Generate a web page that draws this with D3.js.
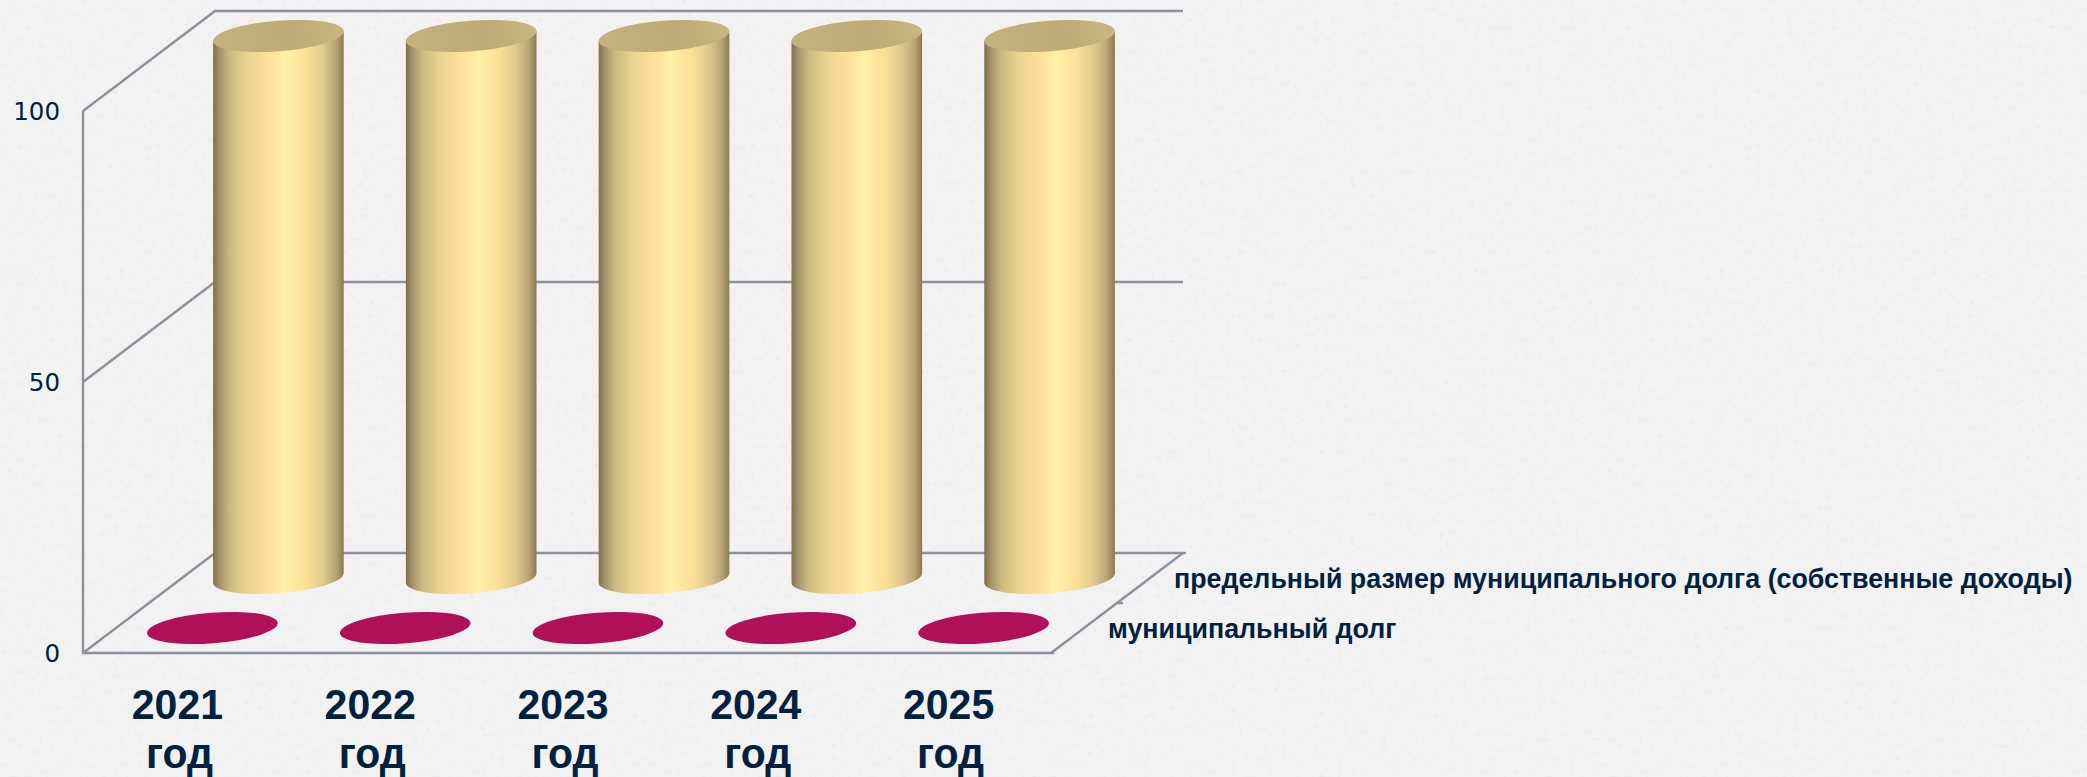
<!DOCTYPE html>
<html><head><meta charset="utf-8">
<script src="https://cdn.jsdelivr.net/npm/d3@7/dist/d3.min.js"></script>
<style>html,body{margin:0;padding:0;background:#f1f1f1;overflow:hidden}svg{display:block}</style>
</head><body><svg id="c" width="2087" height="777"></svg>
<script>
const categories=["2021","2022","2023","2024","2025"];
const categorySuffix="год";
const seriesNames=["муниципальный долг","предельный размер муниципального долга (собственные доходы)"];
const municipalDebt=[0,0,0,0,0];
const debtLimit=[100,100,100,100,100];
const valueTicks=[0,50,100];
const seriesValues=[municipalDebt,debtLimit];
const seriesFills=["#b01058",null];

const svg=d3.select("#c");
const W=2087,H=777;
const ink="#00213f",grid="#8d919b";
const defs=svg.append("defs");

// paper texture
const f=defs.append("filter").attr("id","paper").attr("x",0).attr("y",0).attr("width","100%").attr("height","100%");
f.append("feTurbulence").attr("type","fractalNoise").attr("baseFrequency",0.16).attr("numOctaves",3).attr("seed",7);
f.append("feColorMatrix").attr("type","matrix").attr("values","0 0 0 0 0.55  0 0 0 0 0.55  0 0 0 0 0.55  0 0 0 1.8 -1.05");
svg.append("rect").attr("width",W).attr("height",H).attr("fill","#f2f2f2");
svg.append("rect").attr("width",W).attr("height",H).attr("filter","url(#paper)").attr("opacity",0.25);

const side=defs.append("linearGradient").attr("id","side");
[[0,"#7f704b"],[.05,"#a5946a"],[.13,"#cdb981"],[.25,"#e8d290"],[.42,"#fddf9b"],[.55,"#fff0a8"],[.72,"#fbdf99"],[.85,"#dcc78b"],[.94,"#b7a574"],[1,"#8a7a52"]]
 .forEach(([o,c])=>side.append("stop").attr("offset",o).attr("stop-color",c));
const cap=defs.append("linearGradient").attr("id","cap");
[[0,"#c4b27e"],[.6,"#bdaa75"],[1,"#c9b782"]].forEach(([o,c])=>cap.append("stop").attr("offset",o).attr("stop-color",c));

// scales: value (height), category (width), series (depth 0..1)
const y=d3.scaleLinear().domain([0,100]).range([653,111]);
const x=d3.scaleBand().domain(categories).range([83,1047]);
const depth=d3.scaleLinear().domain([0,1]).range([0,1]);
const depthX=132,depthY=-100;
const px=(fx,d)=>fx+depthX*depth(d);
const py=(v,d)=>y(v)+depthY*depth(d);
const seriesDepth=d3.scaleBand().domain(d3.range(seriesNames.length)).range([0,1]);
const dOf=i=>seriesDepth(i)+seriesDepth.bandwidth()/2;

// walls
const g=svg.append("g").attr("fill","none").attr("stroke",grid).attr("stroke-width",2.4);
const line=d3.line();
const x0=x.range()[0],x1=1051;
valueTicks.forEach(v=>{
  g.append("path").attr("d",line([[x0,y(v)],[px(x0,1),py(v,1)],[px(x1,1),py(v,1)]]));
});
g.append("path").attr("d",line([[x0,y(100)],[x0,y(0)],[x1,y(0)],[px(x1,1),py(0,1)]]));
[0,.5,1].forEach(d=>g.append("path").attr("d",line([[px(x1,d),py(0,d)],[px(x1,d)+(d===.5?6:3),py(0,d)]])));

// value axis
const ax=svg.append("g").attr("transform","translate(60,0)")
  .call(d3.axisLeft(y).tickValues(valueTicks).tickSize(0).tickPadding(0));
ax.select(".domain").remove();
ax.selectAll("text").attr("font-family","DejaVu Sans").attr("font-size",24.5).attr("fill",ink).attr("dy","0.36em");

// cylinders
const rx=65.5,ry=15.3,theta=-4.5;
const t=theta*Math.PI/180;
const hw=Math.sqrt(rx*rx*Math.cos(t)**2+ry*ry*Math.sin(t)**2);
const ey=(rx*rx-ry*ry)*Math.sin(t)*Math.cos(t)/hw;
const marks=svg.append("g");
[1,0].forEach(s=>{
  const d=dOf(s);
  const data=categories.map((c,i)=>({c,v:seriesValues[s][i]}));
  const n=marks.append("g").selectAll("g").data(data).join("g");
  const cx=e=>px(x(e.c)+x.bandwidth()/2,d);
  n.filter(e=>e.v>0).append("path")
    .attr("fill","url(#side)")
    .attr("d",e=>{
      const X=cx(e),b=py(0,d),tp=py(e.v,d);
      return `M${X-hw},${tp-ey}L${X-hw},${b-ey}A${rx},${ry} ${theta} 0 0 ${X+hw},${b+ey}L${X+hw},${tp+ey}Z`;
    });
  n.append("ellipse")
    .attr("cx",cx).attr("cy",e=>py(e.v,d)).attr("rx",rx).attr("ry",ry)
    .attr("transform",e=>`rotate(${theta} ${cx(e)} ${py(e.v,d)})`)
    .attr("fill",e=>e.v>0?"url(#cap)":seriesFills[s]);
});

// category labels (slightly tall glyphs, as in the reference)
const lab=svg.append("g").attr("font-family","Liberation Sans").attr("font-weight",700).attr("fill",ink).attr("text-anchor","middle").attr("font-size",41);
categories.forEach(c=>{
  const X=x(c)+x.bandwidth()/2;
  lab.append("text").attr("transform",`translate(${X-2},719) scale(1,1.05)`).text(c);
  lab.append("text").attr("transform",`translate(${X},768) scale(1,1.05)`).text(categorySuffix);
});

// series labels
const sl=svg.append("g").attr("font-family","Liberation Sans").attr("font-weight",700).attr("fill",ink).attr("font-size",26.8);
seriesNames.forEach((nm,i)=>{
  const d=dOf(i);
  sl.append("text").attr("x",px(x1,d)+24).attr("y",py(0,d)+10).text(nm);
});
</script></body></html>
